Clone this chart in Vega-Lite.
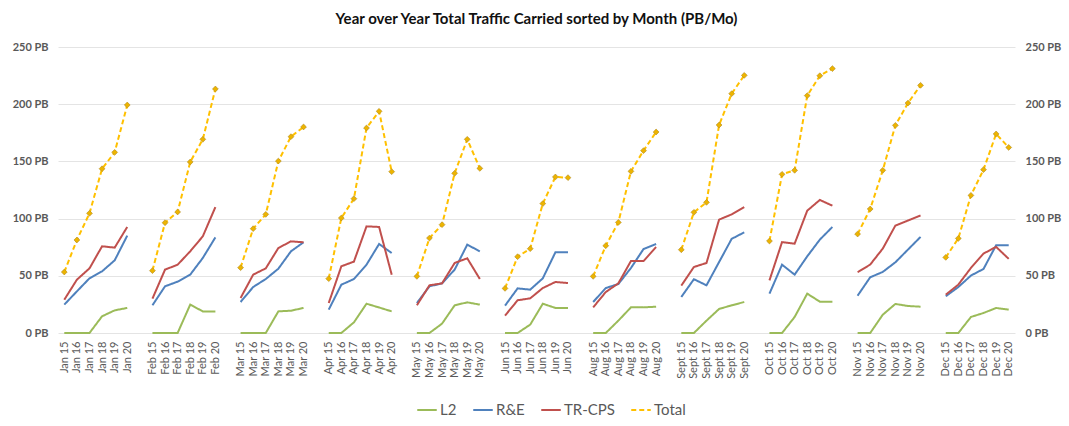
{
  "$schema": "https://vega.github.io/schema/vega-lite/v6.json",
  "autosize": {"type": "none"},
  "width": 957,
  "height": 286,
  "padding": {"left": 58, "top": 47, "right": 54, "bottom": 93},
  "background": "white",
  "config": {
    "font": "Lato",
    "view": {"stroke": null},
    "legend": {
      "orient": "none",
      "legendX": 358,
      "legendY": 352,
      "direction": "horizontal",
      "symbolType": "stroke",
      "symbolSize": 380,
      "symbolStrokeWidth": 2,
      "labelFontSize": 15,
      "labelColor": "#595959",
      "labelFont": "Lato",
      "columnPadding": 12,
      "labelOffset": 2,
      "title": null
    }
  },
  "title": {
    "text": "Year over Year Total Traffic Carried sorted by Month  (PB/Mo)",
    "fontSize": 15,
    "fontWeight": "bold",
    "font": "Lato",
    "color": "#111111",
    "offset": 14,
    "anchor": "middle"
  },
  "data": {
    "values": [
      {"cat": "Jan 15", "month": "Jan", "L2": 0, "RE": 24.8, "TRCPS": 29.1, "Total": 53.3},
      {"cat": "Jan 16", "month": "Jan", "L2": 0, "RE": 36.4, "TRCPS": 46.6, "Total": 81.3},
      {"cat": "Jan 17", "month": "Jan", "L2": 0, "RE": 47.8, "TRCPS": 56.5, "Total": 104.6},
      {"cat": "Jan 18", "month": "Jan", "L2": 14.6, "RE": 53.9, "TRCPS": 75.8, "Total": 143.6},
      {"cat": "Jan 19", "month": "Jan", "L2": 19.8, "RE": 63.5, "TRCPS": 74.6, "Total": 157.9},
      {"cat": "Jan 20", "month": "Jan", "L2": 21.9, "RE": 85.1, "TRCPS": 92.7, "Total": 199.3},
      {"cat": "Feb 15", "month": "Feb", "L2": 0, "RE": 24.2, "TRCPS": 30.0, "Total": 54.5},
      {"cat": "Feb 16", "month": "Feb", "L2": 0, "RE": 40.8, "TRCPS": 55.4, "Total": 96.4},
      {"cat": "Feb 17", "month": "Feb", "L2": 0, "RE": 44.9, "TRCPS": 59.7, "Total": 105.8},
      {"cat": "Feb 18", "month": "Feb", "L2": 24.8, "RE": 51.0, "TRCPS": 71.4, "Total": 149.5},
      {"cat": "Feb 19", "month": "Feb", "L2": 18.9, "RE": 65.6, "TRCPS": 84.5, "Total": 169.3},
      {"cat": "Feb 20", "month": "Feb", "L2": 18.9, "RE": 83.6, "TRCPS": 110.1, "Total": 213.3},
      {"cat": "Mar 15", "month": "Mar", "L2": 0, "RE": 27.1, "TRCPS": 30.6, "Total": 57.1},
      {"cat": "Mar 16", "month": "Mar", "L2": 0, "RE": 40.2, "TRCPS": 51.0, "Total": 91.2},
      {"cat": "Mar 17", "month": "Mar", "L2": 0, "RE": 47.2, "TRCPS": 56.5, "Total": 103.7},
      {"cat": "Mar 18", "month": "Mar", "L2": 18.9, "RE": 56.2, "TRCPS": 74.3, "Total": 150.3},
      {"cat": "Mar 19", "month": "Mar", "L2": 19.5, "RE": 71.4, "TRCPS": 80.1, "Total": 171.6},
      {"cat": "Mar 20", "month": "Mar", "L2": 21.9, "RE": 79.3, "TRCPS": 79.3, "Total": 180.1},
      {"cat": "Apr 15", "month": "Apr", "L2": 0, "RE": 20.4, "TRCPS": 26.2, "Total": 47.5},
      {"cat": "Apr 16", "month": "Apr", "L2": 0, "RE": 42.2, "TRCPS": 58.3, "Total": 100.5},
      {"cat": "Apr 17", "month": "Apr", "L2": 9.3, "RE": 47.2, "TRCPS": 62.4, "Total": 117.4},
      {"cat": "Apr 18", "month": "Apr", "L2": 25.6, "RE": 59.7, "TRCPS": 93.2, "Total": 179.2},
      {"cat": "Apr 19", "month": "Apr", "L2": 22.3, "RE": 77.8, "TRCPS": 92.7, "Total": 193.8},
      {"cat": "Apr 20", "month": "Apr", "L2": 18.9, "RE": 69.9, "TRCPS": 51.0, "Total": 141.0},
      {"cat": "May 15", "month": "May", "L2": 0, "RE": 26.2, "TRCPS": 24.2, "Total": 49.5},
      {"cat": "May 16", "month": "May", "L2": 0, "RE": 40.8, "TRCPS": 41.7, "Total": 83.0},
      {"cat": "May 17", "month": "May", "L2": 8.2, "RE": 43.4, "TRCPS": 43.4, "Total": 94.7},
      {"cat": "May 18", "month": "May", "L2": 24.2, "RE": 55.4, "TRCPS": 61.2, "Total": 139.6},
      {"cat": "May 19", "month": "May", "L2": 26.8, "RE": 77.2, "TRCPS": 65.3, "Total": 169.3},
      {"cat": "May 20", "month": "May", "L2": 24.8, "RE": 71.4, "TRCPS": 47.2, "Total": 143.9},
      {"cat": "Jun 15", "month": "Jun", "L2": 0, "RE": 23.9, "TRCPS": 15.2, "Total": 39.0},
      {"cat": "Jun 16", "month": "Jun", "L2": 0, "RE": 39.0, "TRCPS": 28.6, "Total": 66.7},
      {"cat": "Jun 17", "month": "Jun", "L2": 7.3, "RE": 37.9, "TRCPS": 30.3, "Total": 73.7},
      {"cat": "Jun 18", "month": "Jun", "L2": 25.6, "RE": 47.8, "TRCPS": 39.3, "Total": 113.1},
      {"cat": "Jun 19", "month": "Jun", "L2": 21.9, "RE": 70.5, "TRCPS": 44.6, "Total": 136.4},
      {"cat": "Jun 20", "month": "Jun", "L2": 21.9, "RE": 70.5, "TRCPS": 43.7, "Total": 135.8},
      {"cat": "Aug 15", "month": "Aug", "L2": 0, "RE": 27.1, "TRCPS": 22.4, "Total": 49.5},
      {"cat": "Aug 16", "month": "Aug", "L2": 0, "RE": 39.3, "TRCPS": 35.8, "Total": 76.3},
      {"cat": "Aug 17", "month": "Aug", "L2": 10.8, "RE": 42.8, "TRCPS": 43.4, "Total": 96.7},
      {"cat": "Aug 18", "month": "Aug", "L2": 22.4, "RE": 56.8, "TRCPS": 62.9, "Total": 141.3},
      {"cat": "Aug 19", "month": "Aug", "L2": 22.4, "RE": 73.4, "TRCPS": 62.9, "Total": 159.4},
      {"cat": "Aug 20", "month": "Aug", "L2": 23.0, "RE": 77.8, "TRCPS": 75.2, "Total": 175.7},
      {"cat": "Sept 15", "month": "Sept", "L2": 0, "RE": 31.5, "TRCPS": 41.4, "Total": 72.8},
      {"cat": "Sept 16", "month": "Sept", "L2": 0, "RE": 47.0, "TRCPS": 57.7, "Total": 105.5},
      {"cat": "Sept 17", "month": "Sept", "L2": 10.8, "RE": 41.7, "TRCPS": 61.2, "Total": 114.2},
      {"cat": "Sept 18", "month": "Sept", "L2": 21.0, "RE": 62.0, "TRCPS": 99.1, "Total": 181.8},
      {"cat": "Sept 19", "month": "Sept", "L2": 24.2, "RE": 82.3, "TRCPS": 103.7, "Total": 209.2},
      {"cat": "Sept 20", "month": "Sept", "L2": 27.1, "RE": 88.0, "TRCPS": 110.1, "Total": 225.2},
      {"cat": "Oct 15", "month": "Oct", "L2": 0, "RE": 34.4, "TRCPS": 46.0, "Total": 80.4},
      {"cat": "Oct 16", "month": "Oct", "L2": 0, "RE": 59.7, "TRCPS": 79.5, "Total": 138.7},
      {"cat": "Oct 17", "month": "Oct", "L2": 14.0, "RE": 51.0, "TRCPS": 78.1, "Total": 142.2},
      {"cat": "Oct 18", "month": "Oct", "L2": 34.4, "RE": 67.0, "TRCPS": 106.9, "Total": 207.5},
      {"cat": "Oct 19", "month": "Oct", "L2": 27.4, "RE": 81.6, "TRCPS": 116.3, "Total": 224.9},
      {"cat": "Oct 20", "month": "Oct", "L2": 27.4, "RE": 92.7, "TRCPS": 111.3, "Total": 231.1},
      {"cat": "Nov 15", "month": "Nov", "L2": 0, "RE": 32.6, "TRCPS": 53.1, "Total": 86.5},
      {"cat": "Nov 16", "month": "Nov", "L2": 0, "RE": 48.7, "TRCPS": 59.8, "Total": 108.4},
      {"cat": "Nov 17", "month": "Nov", "L2": 16.0, "RE": 53.4, "TRCPS": 73.8, "Total": 142.2},
      {"cat": "Nov 18", "month": "Nov", "L2": 25.4, "RE": 61.8, "TRCPS": 93.9, "Total": 181.5},
      {"cat": "Nov 19", "month": "Nov", "L2": 23.6, "RE": 72.9, "TRCPS": 98.3, "Total": 201.0},
      {"cat": "Nov 20", "month": "Nov", "L2": 23.0, "RE": 84.0, "TRCPS": 102.7, "Total": 216.5},
      {"cat": "Dec 15", "month": "Dec", "L2": 0, "RE": 32.1, "TRCPS": 33.5, "Total": 66.1},
      {"cat": "Dec 16", "month": "Dec", "L2": 0, "RE": 40.2, "TRCPS": 42.3, "Total": 82.7},
      {"cat": "Dec 17", "month": "Dec", "L2": 14.0, "RE": 50.2, "TRCPS": 56.9, "Total": 120.3},
      {"cat": "Dec 18", "month": "Dec", "L2": 17.5, "RE": 56.0, "TRCPS": 69.4, "Total": 142.8},
      {"cat": "Dec 19", "month": "Dec", "L2": 21.9, "RE": 76.7, "TRCPS": 75.3, "Total": 174.0},
      {"cat": "Dec 20", "month": "Dec", "L2": 20.4, "RE": 76.7, "TRCPS": 64.8, "Total": 162.2}
    ]
  },
  "transform": [
    {"fold": ["L2", "RE", "TRCPS", "Total"], "as": ["series", "value"]}
  ],
  "encoding": {
    "x": {
      "field": "cat",
      "type": "ordinal",
      "scale": {
        "type": "point",
        "padding": 0.5,
        "domain": [
          "Jan 15", "Jan 16", "Jan 17", "Jan 18", "Jan 19", "Jan 20", "gap1",
          "Feb 15", "Feb 16", "Feb 17", "Feb 18", "Feb 19", "Feb 20", "gap2",
          "Mar 15", "Mar 16", "Mar 17", "Mar 18", "Mar 19", "Mar 20", "gap3",
          "Apr 15", "Apr 16", "Apr 17", "Apr 18", "Apr 19", "Apr 20", "gap4",
          "May 15", "May 16", "May 17", "May 18", "May 19", "May 20", "gap5",
          "Jun 15", "Jun 16", "Jun 17", "Jun 18", "Jun 19", "Jun 20", "gap6",
          "Aug 15", "Aug 16", "Aug 17", "Aug 18", "Aug 19", "Aug 20", "gap7",
          "Sept 15", "Sept 16", "Sept 17", "Sept 18", "Sept 19", "Sept 20", "gap8",
          "Oct 15", "Oct 16", "Oct 17", "Oct 18", "Oct 19", "Oct 20", "gap9",
          "Nov 15", "Nov 16", "Nov 17", "Nov 18", "Nov 19", "Nov 20", "gap10",
          "Dec 15", "Dec 16", "Dec 17", "Dec 18", "Dec 19", "Dec 20"
        ]
      },
      "axis": {
        "title": null,
        "labelAngle": -90,
        "labelPadding": 8,
        "labelFontSize": 11,
        "labelColor": "#595959",
        "labelFont": "Lato",
        "labelOverlap": false,
        "ticks": false,
        "domain": false,
        "grid": false,
        "labelExpr": "test(/^gap/, datum.label) ? '' : datum.label"
      }
    }
  },
  "layer": [
    {
      "mark": {"type": "line", "strokeWidth": 2},
      "encoding": {
        "y": {
          "field": "value",
          "type": "quantitative",
          "scale": {"domain": [0, 250], "nice": false},
          "axis": {
            "orient": "left",
            "title": null,
            "values": [0, 50, 100, 150, 200, 250],
            "labelExpr": "datum.value + ' PB'",
            "labelFontSize": 11,
            "labelFontWeight": "bold",
            "labelColor": "#595959",
            "labelFont": "Lato",
            "labelPadding": 10,
            "ticks": false,
            "domain": false,
            "grid": true,
            "gridColor": "#e4e4e4",
            "gridWidth": 1
          }
        },
        "color": {
          "field": "series",
          "type": "nominal",
          "scale": {
            "domain": ["L2", "RE", "TRCPS", "Total"],
            "range": ["#9BBB59", "#4F81BD", "#C0504D", "#FFC000"]
          },
          "legend": {
            "labelExpr": "datum.label == 'RE' ? 'R&E' : datum.label == 'TRCPS' ? 'TR-CPS' : datum.label"
          }
        },
        "strokeDash": {
          "field": "series",
          "type": "nominal",
          "scale": {
            "domain": ["L2", "RE", "TRCPS", "Total"],
            "range": [[1, 0], [1, 0], [1, 0], [5, 3]]
          },
          "legend": {
            "labelExpr": "datum.label == 'RE' ? 'R&E' : datum.label == 'TRCPS' ? 'TR-CPS' : datum.label"
          }
        },
        "detail": {"field": "month", "type": "nominal"}
      }
    },
    {
      "transform": [{"filter": "datum.series == 'Total'"}],
      "mark": {
        "type": "point",
        "shape": "diamond",
        "filled": true,
        "size": 34,
        "fill": "#EDB400",
        "stroke": "#B08A20",
        "strokeWidth": 0.6,
        "opacity": 1
      },
      "encoding": {
        "y": {
          "field": "value",
          "type": "quantitative",
          "scale": {"domain": [0, 250], "nice": false},
          "axis": {
            "orient": "right",
            "title": null,
            "values": [0, 50, 100, 150, 200, 250],
            "labelExpr": "datum.value + ' PB'",
            "labelFontSize": 11,
            "labelFontWeight": "bold",
            "labelColor": "#595959",
            "labelFont": "Lato",
            "labelPadding": 10,
            "ticks": false,
            "domain": false,
            "grid": false
          }
        }
      }
    }
  ],
  "resolve": {"axis": {"y": "independent"}}
}
